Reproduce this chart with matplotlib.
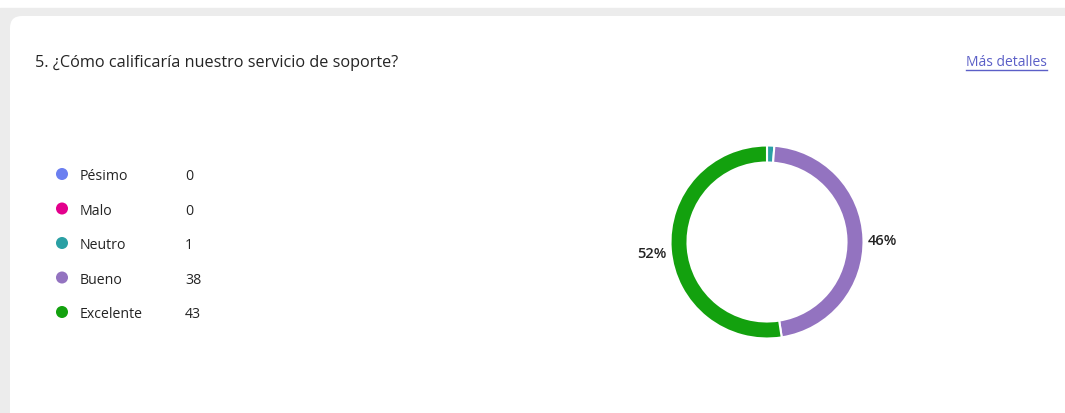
import matplotlib
matplotlib.use("Agg")
import matplotlib.pyplot as plt
from matplotlib.patches import FancyBboxPatch

plt.rcParams['font.family'] = ['Open Sans', 'DejaVu Sans']

# data
title = "5. ¿Cómo calificaría nuestro servicio de soporte?"
categories = ["Pésimo", "Malo", "Neutro", "Bueno", "Excelente"]
counts = [0, 0, 1, 38, 43]
colors = ["#6b7ff0", "#e3008c", "#2aa0a4", "#9373c0", "#13a10e"]

W, H = 1065, 414
fig = plt.figure(figsize=(W / 100, H / 100), dpi=100)
fig.patch.set_facecolor("white")

# background axes in pixel coordinates
bg = fig.add_axes([0, 0, 1, 1])
bg.set_xlim(0, W)
bg.set_ylim(H, 0)
bg.axis("off")
bg.add_patch(plt.Rectangle((0, 9), W, H, color="#ececec", zorder=0))
bg.add_patch(FancyBboxPatch((10, 17), W + 40, H + 40,
                            boxstyle="round,pad=0,rounding_size=12",
                            facecolor="white", edgecolor="none", zorder=1))

txt = "#242424"
bg.text(35, 63, title, fontsize=11.7, color=txt, va="center", ha="left", zorder=2)
bg.text(1047, 63, "Más detalles", fontsize=10.0, color="#5b5fc7",
        va="center", ha="right", zorder=2)
bg.plot([966, 1047], [71, 71], color="#5b5fc7", lw=1, zorder=2)

# legend with counts
y0, dy = 175, 34.5
for i, (cat, n, c) in enumerate(zip(categories, counts, colors)):
    y = y0 + i * dy
    bg.scatter([62], [y], s=75, color=c, zorder=3, edgecolors="none")
    bg.text(80, y + 2, cat, fontsize=10.2, color=txt, va="center", ha="left", zorder=3)
    bg.text(185, y + 2, str(n), fontsize=10.2, color=txt, va="center", ha="left", zorder=3)

# donut
cx, cy, side = 767, 243, 300
ax = fig.add_axes([(cx - side / 2) / W, 1 - (cy + side / 2) / H, side / W, side / H])
ax.set_xlim(-1.5, 1.5)
ax.set_ylim(-1.5, 1.5)
ax.set_aspect("equal")
ax.axis("off")

def pct(p):
    return "%d%%" % round(p) if p > 5 else ""

wedges, texts, autotexts = ax.pie(counts, colors=colors, startangle=90,
                                  counterclock=False, radius=0.965,
                                  autopct=pct, pctdistance=1.2,
                                  wedgeprops=dict(width=0.17, edgecolor="white", linewidth=1.5))
for t in autotexts:
    t.set_fontsize(10.5)
    t.set_fontweight("semibold")
    t.set_color(txt)
    x, y = t.get_position()
    t.set_position((x, y - 0.02))
ax.set_xlim(-1.5, 1.5)
ax.set_ylim(-1.5, 1.5)

plt.savefig("out.png", dpi=100)
plt.close()
